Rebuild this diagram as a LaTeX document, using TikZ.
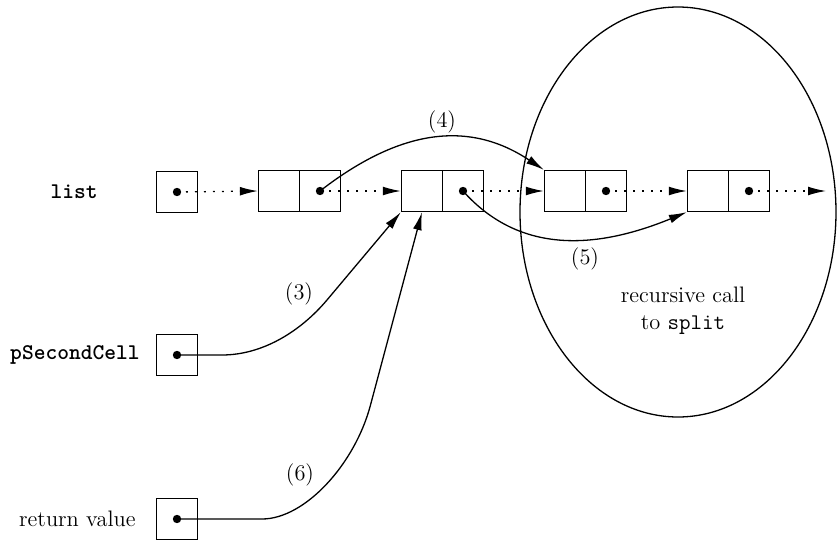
\documentclass[tikz,border=0pt]{standalone}
\usetikzlibrary{arrows.meta,shapes.geometric}
\begin{document}
\begin{tikzpicture}[x=0.5pt,y=-0.5pt,
  every node/.style={font=\fontsize{11.2}{13.5}\selectfont},
  cell/.style={draw,line width=0.65pt,minimum size=20.5pt,inner sep=0pt},
  ptr/.style={line width=0.65pt,-{Latex[length=9pt,width=4.4pt]}},
  nxt/.style={ptr,dash pattern=on 0.9pt off 3.6pt},
  dotmark/.style={circle,fill,inner sep=0pt,minimum size=4.2pt},
  side/.style={anchor=east,inner sep=0pt},
  lbl/.style={inner sep=1pt}]
\useasboundingbox (0,0) rectangle (837,541);

% recursive call region
\node[draw,line width=0.65pt,ellipse,minimum width=158pt,minimum height=205pt,inner sep=0pt] (rec) at (678,212) {};
\node[align=center] (rectext) at (683,311) {recursive call\\to \texttt{split}};

% labels
\node[side,font=\fontsize{11.2}{13.5}\selectfont\ttfamily\bfseries] (llist) at (98,192) {list};
\node[side,font=\fontsize{11.2}{13.5}\selectfont\ttfamily\bfseries] (lpsc) at (140,355) {pSecondCell};
\node[side] (lret) at (136,519) {return value};

% cells
\node[cell] (c1) at (177,192) {};
\node[cell] (c2a) at (279,191) {};
\node[cell] (c2b) at (320,191) {};
\node[cell] (c3a) at (422,191) {};
\node[cell] (c3b) at (463,191) {};
\node[cell] (c4a) at (565,191) {};
\node[cell] (c4b) at (606,191) {};
\node[cell] (c5a) at (708,191) {};
\node[cell] (c5b) at (749,191) {};
\node[cell] (psc) at (177,355) {};
\node[cell] (ret) at (177,519) {};
\coordinate (tail) at (826,191);

% dots
\node[dotmark] (d1) at (c1.center) {};
\node[dotmark] (d2) at (c2b.center) {};
\node[dotmark] (d3) at (c3b.center) {};
\node[dotmark] (d4) at (c4b.center) {};
\node[dotmark] (d5) at (c5b.center) {};
\node[dotmark] (dp) at (psc.center) {};
\node[dotmark] (dr) at (ret.center) {};

% next pointers
\draw[nxt] (d1.center) -- (c2a.west);
\draw[nxt] (d2.center) -- (c3a.west);
\draw[nxt] (d3.center) -- (c4a.west);
\draw[nxt] (d4.center) -- (c5a.west);
\draw[nxt] (d5.center) -- (tail);

% curved pointers
\draw[ptr] (dp.center) -- (222,355) .. controls (262,355) and (300,332) .. (327,300) -- (c3a.south west);
\draw[ptr] (dr.center) -- (262,519) .. controls (305,519) and (355,464) .. (370.5,405) -- (c3a.south);
\draw[ptr] (d2.center) .. controls +(80,-62) and +(-75,-50) .. (c4a.north west);
\draw[ptr] (d3.center) .. controls +(58,65) and +(-88,36) .. (c5a.south west);

% step labels
\node[lbl] (s3) at (299,294) {(3)};
\node[lbl] (s4) at (442,122) {(4)};
\node[lbl] (s5) at (585,259) {(5)};
\node[lbl] (s6) at (300,475) {(6)};
\end{tikzpicture}
\end{document}
